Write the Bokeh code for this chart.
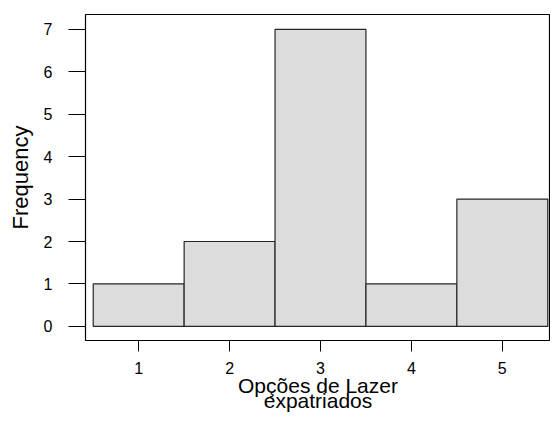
from bokeh.plotting import figure
from bokeh.models import Range1d, FixedTicker
from bokeh.embed import file_html
from bokeh.resources import INLINE

categories = [1, 2, 3, 4, 5]
frequency = [1, 2, 7, 1, 3]
y_ticks = [0, 1, 2, 3, 4, 5, 6, 7]
x_title = "Opções de Lazer\nexpatriados"
y_title = "Frequency"

p = figure(width=550, height=417, output_backend="svg", toolbar_location=None,
           x_range=Range1d(0.415, 5.53), y_range=Range1d(-0.334, 7.353),
           min_border_left=85, min_border_right=0, min_border_top=14, min_border_bottom=77)
p.title.visible = False

p.vbar(x=categories, top=frequency, bottom=0, width=1.0,
       fill_color="#dcdcdc", line_color="#262626", line_width=1.2)

p.grid.visible = False
p.outline_line_color = "#000000"
p.outline_line_width = 1.2
p.background_fill_color = "white"
p.border_fill_color = "white"

FONT = "Liberation Sans"
for ax in (p.xaxis[0], p.yaxis[0]):
    ax.axis_line_color = None
    ax.minor_tick_line_color = None
    ax.major_tick_in = 0
    ax.major_tick_line_color = "#000000"
    ax.major_label_text_font = FONT
    ax.major_label_text_font_size = "16px"
    ax.major_label_text_color = "#000000"
    ax.axis_label_text_font = FONT
    ax.axis_label_text_font_style = "normal"
    ax.axis_label_text_color = "#000000"

p.xaxis.ticker = FixedTicker(ticks=categories)
p.yaxis.ticker = FixedTicker(ticks=y_ticks)
p.xaxis.major_tick_out = 11
p.yaxis.major_tick_out = 17
p.xaxis.major_label_standoff = 10
p.yaxis.major_label_standoff = 16
p.xaxis.axis_label = x_title
p.xaxis.axis_label_text_font_size = "21px"
p.xaxis.axis_label_text_line_height = 0.67
p.xaxis.axis_label_text_baseline = "bottom"
p.xaxis.axis_label_standoff = -3
p.yaxis.axis_label = y_title
p.yaxis.axis_label_text_font_size = "22px"
p.yaxis.axis_label_standoff = 8

open("out.html", "w").write(file_html(p, INLINE))
